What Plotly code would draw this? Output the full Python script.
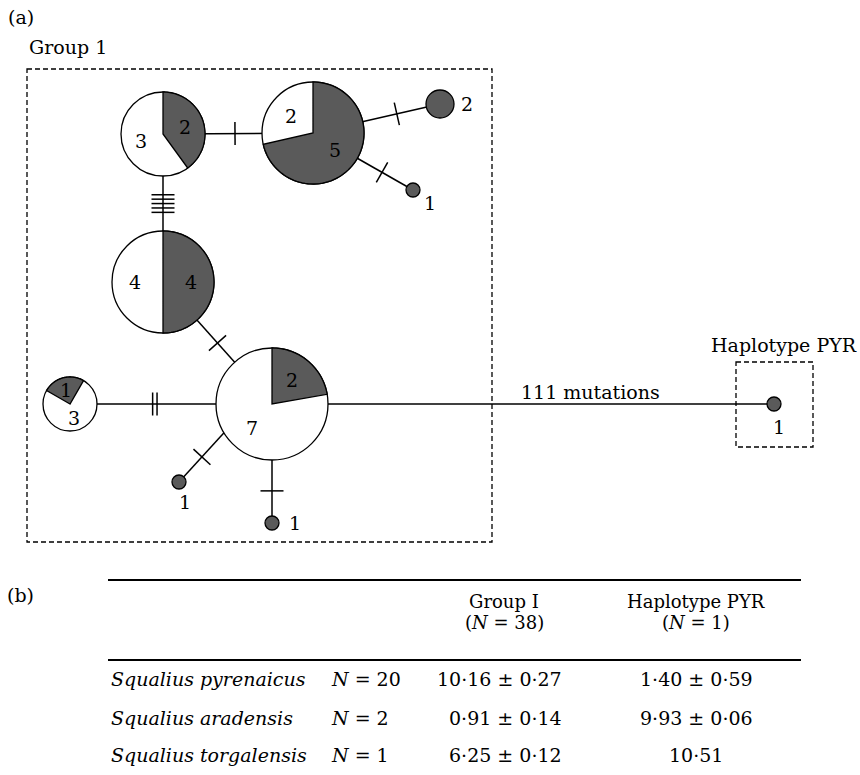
import numpy as np
import plotly.graph_objects as go

# ---------------- data ----------------
node_ids = ["A", "B", "C", "D", "E", "F", "G", "H", "I", "J"]
white_n = [3, 2, 0, 0, 4, 7, 3, 0, 0, 0]
dark_n = [2, 5, 2, 1, 4, 2, 1, 1, 1, 1]

edge_from = ["A", "B", "B", "A", "E", "G", "F", "F", "F"]
edge_to = ["B", "C", "D", "E", "F", "F", "H", "I", "J"]
edge_mut = [1, 1, 1, 5, 1, 2, 1, 1, 111]

species = ["Squalius pyrenaicus", "Squalius aradensis", "Squalius torgalensis"]
species_n = [20, 2, 1]
col_names = ["Group I", "Haplotype PYR"]
col_n = [38, 1]
group1_mean = [10.16, 0.91, 6.25]
group1_sd = [0.27, 0.14, 0.12]
pyr_mean = [1.40, 9.93, 10.51]
pyr_sd = [0.59, 0.06, None]

# ---------------- layout / style ----------------
W, H = 860, 775
FONT = "DejaVu Serif"
FS = 19
DARK = "#5a5a5a"
LW = 1.5

node_pos = {"A": (163, 134), "B": (313, 133), "C": (440, 104), "D": (413, 190),
            "E": (163, 282), "F": (272, 404), "G": (70, 404), "H": (179, 482),
            "I": (272, 523), "J": (774, 404)}
node_r = {"A": 42, "B": 51, "C": 14, "D": 7, "E": 51, "F": 56, "G": 27,
          "H": 7, "I": 7, "J": 7}
dark_start = {"A": 0, "B": 0, "E": 0, "F": 0, "G": -60}
label_off = {"C": (27, 0), "D": (17, 13), "H": (6, 20), "I": (23, 0), "J": (5, 23)}
edge_attach = {("F", "H"): 239}
tick_frac = {("A", "B"): 0.48, ("B", "C"): 0.66, ("B", "D"): 0.69, ("A", "E"): 0.47,
             ("E", "F"): 0.5, ("G", "F"): 0.42, ("F", "H"): 0.49, ("F", "I"): 0.73}
long_label_pos = (590, 392)

shapes = []
annotations = []


def txt(x, y, s, size=FS, xanchor="center", yanchor="middle"):
    annotations.append(dict(x=x, y=y, text=s, showarrow=False, xref="x", yref="y",
                            xanchor=xanchor, yanchor=yanchor, borderpad=0,
                            font=dict(family=FONT, size=size, color="black")))


def pt(cx, cy, r, ang):
    a = np.radians(ang)
    return cx + r * np.sin(a), cy - r * np.cos(a)


def line(x0, y0, x1, y1, w=LW, dash=None):
    ln = dict(color="black", width=w)
    if dash:
        ln["dash"] = dash
    shapes.append(dict(type="line", x0=x0, y0=y0, x1=x1, y1=y1, xref="x", yref="y", line=ln))


def dashed_rect(x0, y0, x1, y1):
    shapes.append(dict(type="rect", x0=x0, y0=y0, x1=x1, y1=y1, xref="x", yref="y",
                       line=dict(color="black", width=1.3, dash="5px,3px"),
                       fillcolor="rgba(0,0,0,0)"))


dashed_rect(27, 69, 492, 542)
dashed_rect(736, 362, 813, 447)

# edges
for a, b, m in zip(edge_from, edge_to, edge_mut):
    if (a, b) in edge_attach:
        x0, y0 = pt(*node_pos[a], node_r[a], edge_attach[(a, b)])
    else:
        x0, y0 = node_pos[a]
    x1, y1 = node_pos[b]
    line(x0, y0, x1, y1)
    dx, dy = x1 - x0, y1 - y0
    L = np.hypot(dx, dy)
    ux, uy = dx / L, dy / L
    px, py = -uy, ux
    if m <= 5:
        f = tick_frac[(a, b)]
        cx, cy = x0 + f * dx, y0 + f * dy
        sp = 4.4
        for k in range(m):
            o = (k - (m - 1) / 2) * sp
            tx, ty = cx + o * ux, cy + o * uy
            hl = 11.5
            line(tx - hl * px, ty - hl * py, tx + hl * px, ty + hl * py)
    else:
        txt(long_label_pos[0], long_label_pos[1], f"{m} mutations")

# nodes
for nid, w, d in zip(node_ids, white_n, dark_n):
    cx, cy = node_pos[nid]
    r = node_r[nid]
    fill = "white" if w > 0 else DARK
    shapes.append(dict(type="circle", x0=cx - r, y0=cy - r, x1=cx + r, y1=cy + r,
                       xref="x", yref="y", fillcolor=fill,
                       line=dict(color="black", width=1.3)))
    if w > 0 and d > 0:
        tot = w + d
        a0 = dark_start[nid]
        a1 = a0 + 360.0 * d / tot
        angs = np.linspace(a0, a1, 80)
        pts = [pt(cx, cy, r, a) for a in angs]
        path = f"M {cx},{cy} " + " ".join(f"L {x:.2f},{y:.2f}" for x, y in pts) + " Z"
        shapes.append(dict(type="path", path=path, xref="x", yref="y",
                           fillcolor=DARK, line=dict(color="black", width=1.3)))
        bd = (a0 + a1) / 2
        bw = bd + 180.0
        lx, ly = pt(cx, cy, 0.55 * r, bd)
        txt(lx, ly, str(d))
        lx, ly = pt(cx, cy, 0.55 * r, bw)
        txt(lx, ly, str(w))
    else:
        ox, oy = label_off[nid]
        txt(cx + ox, cy + oy, str(w + d))

# panel texts
txt(21, 17, "(a)")
txt(28, 47, "Group 1", xanchor="left")
txt(784, 345, "Haplotype PYR")

# ---------------- table (b) ----------------
txt(20, 595, "(b)")
line(108, 580, 801, 580, w=2)
line(108, 660, 801, 660, w=2)
col_x = [504, 696]
for cx_, name, n in zip(col_x, col_names, col_n):
    txt(cx_, 601, name, size=18)
    txt(cx_, 622, f"(<i>N</i> = {n})", size=18)


def fmt(v):
    return f"{v:.2f}".replace(".", "·")


row_y = [679, 718, 755]
for y, sp_, n, gm, gs, pm, ps in zip(row_y, species, species_n, group1_mean, group1_sd,
                                     pyr_mean, pyr_sd):
    txt(110, y, f"<i>{sp_}</i>", xanchor="left")
    txt(330, y, f"<i>N</i> = {n}", xanchor="left")
    txt(563, y, f"{fmt(gm)} ± {fmt(gs)}", xanchor="right")
    s = fmt(pm) if ps is None else f"{fmt(pm)} ± {fmt(ps)}"
    txt(col_x[1], y, s)

fig = go.Figure()
fig.add_trace(go.Scatter(x=[], y=[], mode="markers", showlegend=False))
fig.update_layout(
    width=W, height=H, autosize=False,
    margin=dict(l=0, r=0, t=0, b=0, pad=0),
    paper_bgcolor="white", plot_bgcolor="white",
    xaxis=dict(range=[0, W], visible=False, fixedrange=True),
    yaxis=dict(range=[H, 0], visible=False, fixedrange=True),
    shapes=shapes, annotations=annotations, showlegend=False,
)
fig.write_html("out.html", config={"displayModeBar": False},
               post_script="document.body.style.margin='0';document.body.style.overflow='hidden';")
